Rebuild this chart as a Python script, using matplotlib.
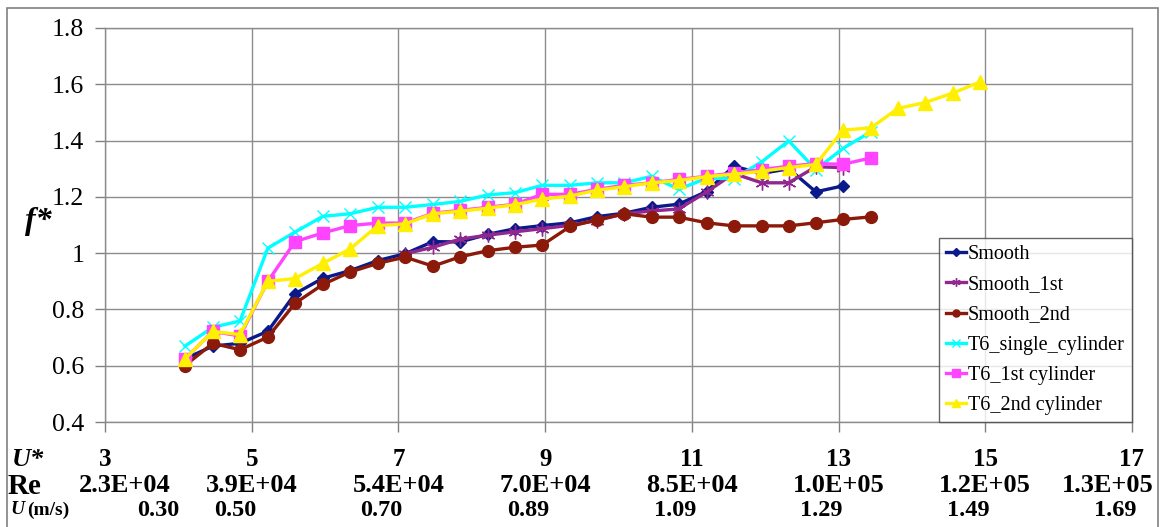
import matplotlib
matplotlib.use("Agg")
import matplotlib.pyplot as plt
from matplotlib.patches import Rectangle
from matplotlib.transforms import blended_transform_factory
from matplotlib.ticker import FormatStrFormatter

plt.rcParams['font.family'] = ['Liberation Serif', 'DejaVu Serif']

# ---------------------------------------------------------------------------
# Data
# ---------------------------------------------------------------------------

u_star = [4.09, 4.47, 4.84, 5.22, 5.59, 5.97, 6.34, 6.72, 7.09, 7.47,
          7.84, 8.22, 8.59, 8.96, 9.34, 9.71, 10.08, 10.45, 10.82, 11.20,
          11.57, 11.95, 12.32, 12.69, 13.06, 13.44, 13.81, 14.18, 14.56, 14.93]

smooth = [0.625, 0.670, 0.680, 0.723, 0.856, 0.911, 0.938, 0.974, 0.998, 1.041,
          1.040, 1.067, 1.087, 1.098, 1.108, 1.130, 1.142, 1.163, 1.174, 1.219,
          1.309, 1.283, 1.300, 1.218, 1.239]

# Smooth_1st starts at the 9th velocity step
smooth_1st_start = 8
smooth_1st = [0.998, 1.021, 1.050, 1.064, 1.076, 1.087, 1.099, 1.116, 1.140,
              1.150, 1.157, 1.217, 1.283, 1.250, 1.250, 1.307, 1.304]

smooth_2nd = [0.601, 0.680, 0.657, 0.702, 0.822, 0.889, 0.933, 0.964, 0.986, 0.954,
              0.987, 1.009, 1.021, 1.029, 1.095, 1.119, 1.140, 1.128, 1.128, 1.108,
              1.097, 1.097, 1.097, 1.108, 1.120, 1.129]

t6_single = [0.670, 0.737, 0.759, 1.018, 1.075, 1.131, 1.140, 1.163, 1.163, 1.173,
             1.184, 1.207, 1.215, 1.241, 1.241, 1.250, 1.250, 1.273, 1.227, 1.266,
             1.265, 1.324, 1.399, 1.297, 1.372, 1.431]

t6_1st = [0.625, 0.722, 0.706, 0.900, 1.041, 1.072, 1.098, 1.107, 1.107, 1.142,
          1.152, 1.163, 1.174, 1.209, 1.209, 1.227, 1.241, 1.250, 1.262, 1.273,
          1.285, 1.297, 1.309, 1.318, 1.316, 1.338]

t6_2nd = [0.625, 0.722, 0.711, 0.900, 0.910, 0.964, 1.015, 1.098, 1.104, 1.140,
          1.149, 1.160, 1.172, 1.192, 1.203, 1.224, 1.236, 1.250, 1.258, 1.272,
          1.280, 1.291, 1.304, 1.315, 1.437, 1.445, 1.514, 1.535, 1.569, 1.608]

x_ticks = [3, 5, 7, 9, 11, 13, 15, 17]
re_labels = ['2.3E+04', '3.9E+04', '5.4E+04', '7.0E+04',
             '8.5E+04', '1.0E+05', '1.2E+05', '1.3E+05']
u_labels = ['0.30', '0.50', '0.70', '0.89', '1.09', '1.29', '1.49', '1.69']

# ---------------------------------------------------------------------------
# Figure
# ---------------------------------------------------------------------------

fig = plt.figure(figsize=(11.67, 5.27), dpi=100)
ax = fig.add_axes([0.090, 0.199, 0.880, 0.748])

lw = 2.4
ax.plot(u_star[:len(smooth)], smooth, color='#0a1a8a', lw=lw,
        marker='D', ms=6.5, label='Smooth')
ax.plot(u_star[smooth_1st_start:smooth_1st_start + len(smooth_1st)], smooth_1st,
        color='#902890', lw=lw, marker=(6, 2, 0), ms=10, mew=1.0,
        label='Smooth_1st')
ax.plot(u_star[:len(smooth_2nd)], smooth_2nd, color='#8b1a0a', lw=lw,
        marker='o', ms=8.5, label='Smooth_2nd')
ax.plot(u_star[:len(t6_single)], t6_single, color='#00ffff', lw=lw,
        marker='x', ms=9, mew=1.0, label='T6_single_cylinder')
ax.plot(u_star[:len(t6_1st)], t6_1st, color='#ff44ff', lw=lw,
        marker='s', ms=8.5, label='T6_1st cylinder')
ax.plot(u_star[:len(t6_2nd)], t6_2nd, color='#ffef00', lw=lw,
        marker='^', ms=9.5, label='T6_2nd cylinder')

ax.set_xlim(3, 17)
ax.set_ylim(0.4, 1.8)
ax.set_xticks(x_ticks)
ax.set_xticklabels([])
ax.set_yticks([0.4, 0.6, 0.8, 1.0, 1.2, 1.4, 1.6, 1.8])
ax.yaxis.set_major_formatter(FormatStrFormatter('%g'))
ax.tick_params(axis='both', direction='out', length=7, width=1,
               color='#808080', labelsize=18.5, pad=8)
ax.grid(True, color='#8c8c8c', lw=1)
ax.set_axisbelow(True)
for sp in ax.spines.values():
    sp.set_color('#8c8c8c')
    sp.set_linewidth(1)

leg = ax.legend(loc='lower right', borderaxespad=0, fontsize=14.5,
                frameon=True, fancybox=False, edgecolor='#404040',
                handlelength=1.0, handletextpad=0.1, labelspacing=0.55,
                markerscale=0.6, borderpad=0.35)
leg.get_frame().set_linewidth(1)

# y-axis label
fig.text(38 / 1167, 1 - 222 / 527, 'f*', fontsize=23, style='italic',
         weight='bold', ha='center', va='center')

# ---------------------------------------------------------------------------
# Table of axis rows below the plot
# ---------------------------------------------------------------------------

tr = blended_transform_factory(ax.transData, fig.transFigure)
y_us, y_re, y_u = 1 - 459 / 527, 1 - 486 / 527, 1 - 510 / 527

for i, xt in enumerate(x_ticks):
    ax.text(xt, y_us, str(xt), transform=tr, fontsize=18, weight='bold',
            ha='center', va='center', clip_on=False)
    xr = xt
    if i == 0:
        xr = 3.27
    elif i == len(x_ticks) - 1:
        xr = 16.67
    ax.text(xr, y_re, re_labels[i], transform=tr, fontsize=19, weight='bold',
            ha='center', va='center', clip_on=False)
    xu = 3.73 if i == 0 else xt - 0.23
    ax.text(xu, y_u, u_labels[i], transform=tr, fontsize=17.5, weight='bold',
            ha='center', va='center', clip_on=False)

fig.text(12 / 1167, y_us, 'U*', fontsize=19, style='italic', weight='bold',
         ha='left', va='center')
fig.text(8 / 1167, y_re, 'Re', fontsize=21, weight='bold', ha='left', va='center')
fig.text(10 / 1167, y_u, 'U', fontsize=14, style='italic', weight='bold',
         ha='left', va='center')
fig.text(27 / 1167, y_u, '(m/s)', fontsize=14, weight='bold',
         ha='left', va='center')

# outer chart border
fig.patches.append(Rectangle((7 / 1167, -0.02), (1158 - 7) / 1167, 1.005,
                             transform=fig.transFigure, fill=False,
                             edgecolor='#808080', lw=1.2))

fig.savefig('out.png', dpi=100)
